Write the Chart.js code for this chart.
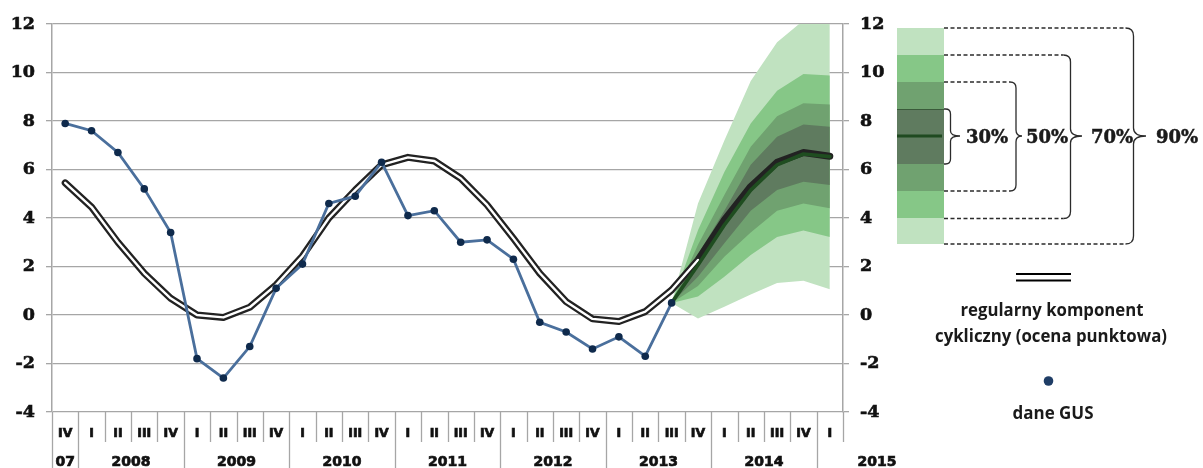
<!DOCTYPE html>
<html><head><meta charset="utf-8">
<script src="https://cdn.jsdelivr.net/npm/chart.js@4.4.1/dist/chart.umd.min.js"></script>
<style>html,body{margin:0;padding:0;background:#fff;overflow:hidden}#wrap{width:1203px;height:468px;position:relative}</style>
</head><body><div id="wrap"><canvas id="c" width="1203" height="468" style="width:1203px;height:468px"></canvas></div>
<script>
// ---- data ----
const quarterLabels = ['IV','I','II','III','IV','I','II','III','IV','I','II','III','IV','I','II','III','IV','I','II','III','IV','I','II','III','IV','I','II','III','IV','I'];
const yearLabels = ['07','2008','2009','2010','2011','2012','2013','2014','2015'];
const yearStarts = [0,1,5,9,13,17,21,25,29];
const yTicks = [-4,-2,0,2,4,6,8,10,12];
const N = null;
const daneGUS = [7.9,7.6,6.7,5.2,3.4,-1.8,-2.6,-1.3,1.1,2.1,4.6,4.9,6.3,4.1,4.3,3.0,3.1,2.3,-0.3,-0.7,-1.4,-0.9,-1.7,0.5,N,N,N,N,N,N];
const cyclical = [5.45,4.45,3.0,1.72,0.69,0.0,-0.1,0.32,1.24,2.43,4.0,5.15,6.19,6.5,6.35,5.64,4.54,3.16,1.72,0.55,-0.16,-0.27,0.14,1.03,2.27,3.92,5.3,6.3,6.7,6.55];
const central = [N,N,N,N,N,N,N,N,N,N,N,N,N,N,N,N,N,N,N,N,N,N,N,0.5,2.06,3.71,5.15,6.19,6.64,6.53];
const up90 = [N,N,N,N,N,N,N,N,N,N,N,N,N,N,N,N,N,N,N,N,N,N,N,0.5,4.6,7.2,9.65,11.25,12.15,12.1];
const up70 = [N,N,N,N,N,N,N,N,N,N,N,N,N,N,N,N,N,N,N,N,N,N,N,0.5,3.5,5.9,7.9,9.25,9.94,9.88];
const up50 = [N,N,N,N,N,N,N,N,N,N,N,N,N,N,N,N,N,N,N,N,N,N,N,0.5,2.9,4.95,6.94,8.2,8.73,8.68];
const up30 = [N,N,N,N,N,N,N,N,N,N,N,N,N,N,N,N,N,N,N,N,N,N,N,0.5,2.5,4.3,6.2,7.35,7.86,7.76];
const lo30 = [N,N,N,N,N,N,N,N,N,N,N,N,N,N,N,N,N,N,N,N,N,N,N,0.5,1.58,2.96,4.3,5.15,5.5,5.36];
const lo50 = [N,N,N,N,N,N,N,N,N,N,N,N,N,N,N,N,N,N,N,N,N,N,N,0.5,1.2,2.4,3.4,4.3,4.6,4.4];
const lo70 = [N,N,N,N,N,N,N,N,N,N,N,N,N,N,N,N,N,N,N,N,N,N,N,0.5,0.76,1.58,2.47,3.22,3.48,3.22];
const lo90 = [N,N,N,N,N,N,N,N,N,N,N,N,N,N,N,N,N,N,N,N,N,N,N,0.5,-0.14,0.34,0.85,1.32,1.41,1.06];
const bandLabels = ['30%','50%','70%','90%'];
const legendCyc = ['regularny komponent','cykliczny (ocena punktowa)'];
const legendGUS = 'dane GUS';

// ---- styles ----
const C90='#c0e2c0', C70='#86c787', C50='#70a270', C30='#5f7b5f';
const GRID='#a6a6a6';

function band(data, color, target, order){
  return {data, borderWidth:0, pointRadius:0, backgroundColor:color, borderColor:color,
    fill: target===null?false:{target}, order, tension:0};
}

const custom = {
  id:'custom',
  afterDraw(chart){
    const ctx = chart.ctx, xs = chart.scales.x, ca = chart.chartArea;
    const px = i => xs.getPixelForValue(i);
    const half = (px(1)-px(0))/2;
    const n = quarterLabels.length;
    ctx.save();
    // category dividers
    ctx.strokeStyle = GRID; ctx.lineWidth = 1.3;
    for(let i=0;i<=n;i++){
      const bx = i<n ? px(i)-half : px(n-1)+half;
      let y2 = yearStarts.includes(i) ? 468 : 442;
      if(i===0) y2 = 468;
      if(i===n) y2 = 442;
      ctx.beginPath(); ctx.moveTo(Math.round(bx)+0.5, ca.bottom); ctx.lineTo(Math.round(bx)+0.5, y2); ctx.stroke();
    }
    function heavy(t,x,y){ctx.fillText(t,x,y); ctx.strokeText(t,x,y);}
    // quarter labels
    ctx.fillStyle='#111'; ctx.strokeStyle='#111'; ctx.lineWidth=0.7;
    ctx.textAlign='center'; ctx.textBaseline='middle';
    ctx.font='bold 12.5px "DejaVu Sans"';
    for(let i=0;i<n;i++) heavy(quarterLabels[i], px(i), 434);
    // year labels
    ctx.font='bold 14px "DejaVu Sans"';
    for(let k=0;k<yearLabels.length;k++){
      const from = yearStarts[k], to = k+1<yearStarts.length ? yearStarts[k+1]-1 : n-1;
      let cx = (px(from)+px(to))/2;
      if(k===yearLabels.length-1) cx = ca.right + 34;
      heavy(yearLabels[k], cx, 462);
    }
    // ---- fan legend ----
    const bx0=897, bx1=944;
    const bands=[[28,55,C90],[55,82,C70],[82,109,C50],[109,164,C30],[164,191,C50],[191,218.5,C70],[218.5,244,C90]];
    bands.forEach(b=>{ctx.fillStyle=b[2]; ctx.fillRect(bx0,b[0],bx1-bx0,b[1]-b[0]);});
    ctx.strokeStyle='#3a5a3a'; ctx.lineWidth=1;
    ctx.beginPath(); ctx.moveTo(bx0,109.5); ctx.lineTo(bx1,109.5); ctx.stroke();
    ctx.strokeStyle='#1f4a20'; ctx.lineWidth=3;
    ctx.beginPath(); ctx.moveTo(bx0,136); ctx.lineTo(942,136); ctx.stroke();
    const ym=136;
    const braces=[
      {y1:109,y2:164,xv:950.5,xt:960,tx:966,dashed:false,r:5},
      {y1:82,y2:191,xv:1016,xt:1022,tx:1026,dashed:true,r:6},
      {y1:55,y2:218.5,xv:1070.5,xt:1082,tx:1091,dashed:true,r:7},
      {y1:28,y2:244,xv:1133.5,xt:1146,tx:1156,dashed:true,r:8}
    ];
    braces.forEach((b,k)=>{
      const {y1,y2,xv,xt,r}=b;
      ctx.strokeStyle='#2b2b2b'; ctx.lineWidth=1.3;
      if(b.dashed){
        ctx.setLineDash([4,2.5]);
        ctx.beginPath(); ctx.moveTo(bx1,y1); ctx.lineTo(xv-r,y1); ctx.moveTo(bx1,y2); ctx.lineTo(xv-r,y2); ctx.stroke();
        ctx.setLineDash([]);
      }
      ctx.beginPath();
      ctx.moveTo(b.dashed?xv-r:bx1, y1);
      if(!b.dashed) ctx.lineTo(xv-r,y1);
      ctx.quadraticCurveTo(xv,y1,xv,y1+r);
      ctx.lineTo(xv,ym-r);
      ctx.quadraticCurveTo(xv,ym,xt,ym);
      ctx.quadraticCurveTo(xv,ym,xv,ym+r);
      ctx.lineTo(xv,y2-r);
      ctx.quadraticCurveTo(xv,y2,xv-r,y2);
      if(!b.dashed) ctx.lineTo(bx1,y2);
      ctx.stroke();
      ctx.fillStyle='#1a1a1a'; ctx.strokeStyle='#1a1a1a'; ctx.lineWidth=0.5;
      ctx.textAlign='left'; ctx.textBaseline='middle';
      ctx.font='bold 18px "DejaVu Serif"';
      heavy(bandLabels[k], b.tx, 138);
    });
    // cyclical legend
    ctx.strokeStyle='#000'; ctx.lineWidth=2;
    ctx.beginPath(); ctx.moveTo(1016,274); ctx.lineTo(1071,274); ctx.moveTo(1016,280.5); ctx.lineTo(1071,280.5); ctx.stroke();
    function fitText(t,cx,cy,w){
      ctx.font='bold 17px "Open Sans"';
      const m=ctx.measureText(t).width;
      ctx.save(); ctx.translate(cx,cy); ctx.scale(w/m,1);
      ctx.fillStyle='#1a1a1a'; ctx.textAlign='center'; ctx.textBaseline='middle';
      ctx.fillText(t,0,0); ctx.restore();
    }
    fitText(legendCyc[0],1052,311,183);
    fitText(legendCyc[1],1051,337,232);
    ctx.fillStyle='#1f3d66';
    ctx.beginPath(); ctx.arc(1048.5,381,4.8,0,Math.PI*2); ctx.fill();
    fitText(legendGUS,1053,414,81);
    ctx.restore();
  }
};

const tickFont = {family:'DejaVu Serif',size:17.5,weight:'bold'};
new Chart(document.getElementById('c'), {
  type:'line',
  data:{
    labels: quarterLabels,
    datasets:[
      band(up90,C90,7,20),
      band(up70,C70,6,19),
      band(up50,C50,5,18),
      band(up30,C30,4,17),
      band(lo30,C30,null,16),
      band(lo50,C50,null,16),
      band(lo70,C70,null,16),
      band(lo90,C90,null,16),
      {data:cyclical, borderColor:'#222', borderWidth:7, pointRadius:0, tension:0, fill:false, order:6, borderCapStyle:'round', borderJoinStyle:'round'},
      {data:cyclical.map((v,i)=>i<=24?v:null), borderColor:'#fff', borderWidth:2.4, pointRadius:0, tension:0, fill:false, order:5, borderCapStyle:'round', borderJoinStyle:'round'},
      {data:central, borderColor:'#1f4d20', borderWidth:3.6, pointRadius:0, tension:0, fill:false, order:4, borderCapStyle:'round', borderJoinStyle:'round'},
      {data:daneGUS, borderColor:'#4a6f9c', borderWidth:2.8, pointRadius:3.8, pointBackgroundColor:'#0f2a4c', pointBorderColor:'#0f2a4c', pointBorderWidth:0, tension:0, fill:false, order:1}
    ]
  },
  options:{
    responsive:false, maintainAspectRatio:false, animation:false, devicePixelRatio:1,
    layout:{padding:{left:0,right:300,top:24,bottom:56}},
    plugins:{legend:{display:false}, tooltip:{enabled:false}, filler:{propagate:false}},
    scales:{
      x:{type:'category', display:false, offset:true},
      y:{position:'left', min:-4, max:12, afterBuildTicks(s){s.ticks=yTicks.map(v=>({value:v}));},
        afterFit(s){s.width=52;},
        ticks:{font:tickFont, color:'#111', padding:11, autoSkip:false, textStrokeColor:'#111', textStrokeWidth:0.6},
        grid:{color:GRID, lineWidth:1.3, tickLength:6},
        border:{color:GRID, width:1.5}},
      y2:{position:'right', min:-4, max:12, afterBuildTicks(s){s.ticks=yTicks.map(v=>({value:v}));},
        afterFit(s){s.width=60;},
        ticks:{font:tickFont, color:'#111', padding:11, autoSkip:false, textStrokeColor:'#111', textStrokeWidth:0.6},
        grid:{drawOnChartArea:false, color:GRID, lineWidth:1.3, tickLength:6},
        border:{color:GRID, width:1.5}}
    }
  },
  plugins:[custom]
});
</script>
</body></html>
